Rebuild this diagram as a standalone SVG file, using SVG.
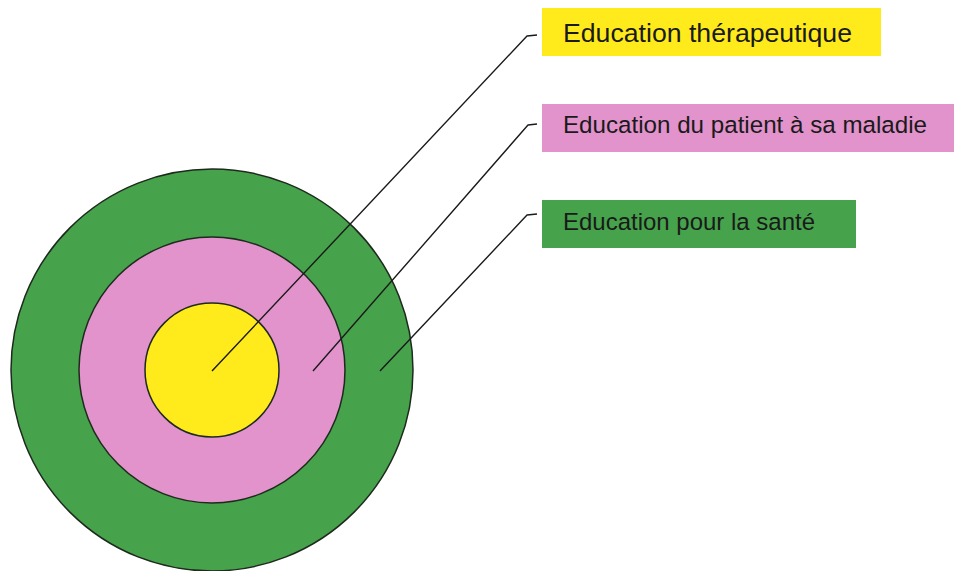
<svg xmlns="http://www.w3.org/2000/svg" width="960" height="571" viewBox="0 0 960 571">
<style>
.ring{stroke:#1e2a1e;stroke-width:1.5}
.lbl{font-family:"Liberation Sans",Arial,sans-serif;font-size:24.5px;fill:#1a1a1a}
.conn{fill:none;stroke:#1a1a1a;stroke-width:1.4;stroke-linejoin:round}
</style>
<rect width="960" height="571" fill="#ffffff"/>
<g id="ring-sante"><circle class="ring" cx="212" cy="370" r="201" fill="#46a24b"/></g>
<g id="ring-patient"><circle class="ring" cx="212" cy="370" r="133" fill="#e293cb"/></g>
<g id="ring-therapeutique"><circle class="ring" cx="212" cy="370" r="67" fill="#ffeb1c"/></g>
<g id="connectors">
<path class="conn" d="M212,371 L527,36 L537,35"/>
<path class="conn" d="M313,371 L528,125 L537,124"/>
<path class="conn" d="M380,371 L527,215 L537,214"/>
</g>
<g id="label-therapeutique">
<rect x="542" y="8" width="339" height="48" fill="#ffeb1c"/>
<text class="lbl" x="563" y="42" style="font-size:26px" textLength="289" lengthAdjust="spacingAndGlyphs">Education thérapeutique</text>
</g>
<g id="label-patient">
<rect x="542" y="104" width="412" height="48" fill="#e293cb"/>
<text class="lbl" x="563" y="133" textLength="364" lengthAdjust="spacingAndGlyphs">Education du patient à sa maladie</text>
</g>
<g id="label-sante">
<rect x="542" y="200" width="314" height="48" fill="#46a24b"/>
<text class="lbl" x="563" y="230" textLength="252" lengthAdjust="spacingAndGlyphs">Education pour la santé</text>
</g>
</svg>
